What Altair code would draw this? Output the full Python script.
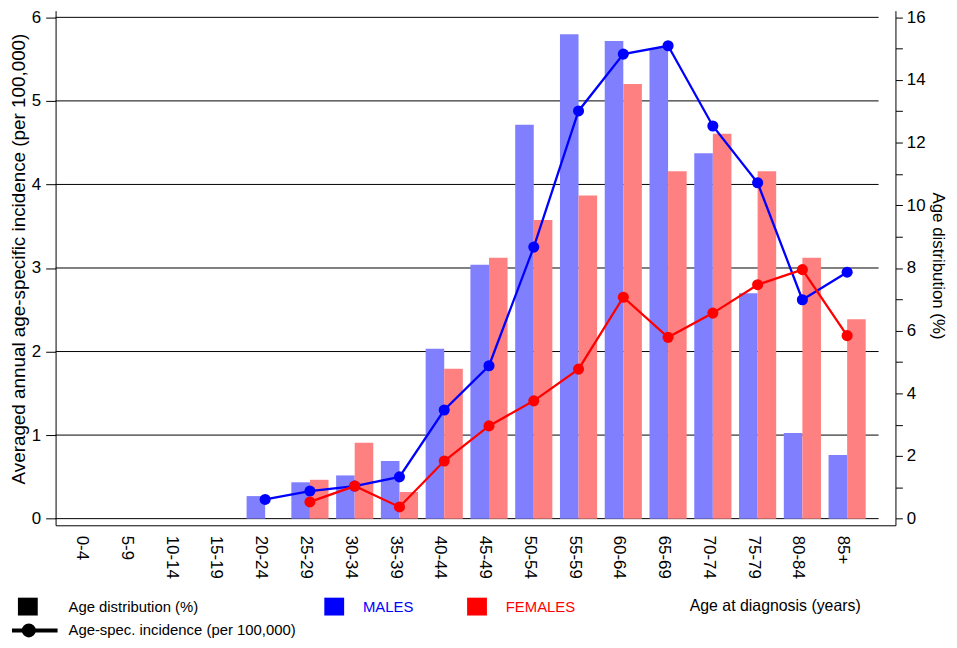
import altair as alt
import pandas as pd

FONT = "Liberation Sans"

ages = ["0-4", "5-9", "10-14", "15-19", "20-24", "25-29", "30-34", "35-39",
        "40-44", "45-49", "50-54", "55-59", "60-64", "65-69", "70-74",
        "75-79", "80-84", "85+"]
male_ages = ages[4:]
female_ages = ages[5:]

# Age distribution (%) - bars (right axis)
male_pct = [0.72, 1.16, 1.38, 1.84, 5.42, 8.10, 12.57, 15.46, 15.24, 15.02,
            11.66, 7.19, 2.73, 2.03]
female_pct = [1.24, 2.42, 0.85, 4.78, 8.33, 9.53, 10.31, 13.87, 11.09, 12.28,
              11.09, 8.33, 6.36]

# Age-specific incidence (per 100,000) - lines (left axis)
male_inc = [0.23, 0.33, 0.39, 0.50, 1.30, 1.83, 3.25, 4.88, 5.56, 5.66,
            4.70, 4.02, 2.62, 2.95]
female_inc = [0.20, 0.39, 0.14, 0.69, 1.11, 1.41, 1.79, 2.65, 2.17, 2.46,
              2.80, 2.98, 2.19]

sexes = ["MALES", "FEMALES"]
bar_colors = ["#8080FF", "#FF8080"]
line_colors = ["#0000FF", "#FF0000"]
left_ticks = [0, 1, 2, 3, 4, 5, 6]
right_ticks = list(range(17))

bars_df = pd.DataFrame({
    "age": male_ages + female_ages,
    "sex": ["MALES"] * len(male_ages) + ["FEMALES"] * len(female_ages),
    "pct": male_pct + female_pct,
})
inc_df = pd.DataFrame({
    "age": male_ages + female_ages,
    "sex": ["MALES"] * len(male_ages) + ["FEMALES"] * len(female_ages),
    "inc": male_inc + female_inc,
})
grid_df = pd.DataFrame({"v": left_ticks})

left_domain = [-0.0796, 6.08]
right_domain = [-0.212, 16.212]

x_scale = alt.Scale(domain=ages, paddingInner=0.17, paddingOuter=0.465, align=0.286)
x_axis = alt.Axis(
    title="Age at diagnosis (years)", labelAngle=90, labelFontSize=17,
    labelPadding=10, labelOffset=-4, ticks=False, domainColor="black",
    domainWidth=1, grid=False, titleX=639, titleY=81, titleAlign="left",
    titleBaseline="middle", titleFontSize=16, titleFontWeight="normal",
)
x_enc = alt.X("age:N", scale=x_scale, axis=x_axis, sort=ages)

grid = alt.Chart(grid_df).mark_rule(color="black", strokeWidth=1).encode(
    y=alt.Y("v:Q", scale=alt.Scale(domain=left_domain, nice=False, zero=False), axis=None),
    x=alt.value(0),
    x2=alt.value(830),
)

bars = alt.Chart(bars_df).mark_bar().encode(
    x=x_enc,
    xOffset=alt.XOffset("sex:N", scale=alt.Scale(domain=sexes, paddingInner=0, paddingOuter=0)),
    y=alt.Y("pct:Q", scale=alt.Scale(domain=right_domain, nice=False, zero=False),
            axis=alt.Axis(
                orient="right", values=right_ticks,
                labelExpr="datum.value % 2 === 0 ? datum.label : ''",
                tickSize=7, labelPadding=4, labelFontSize=17, tickColor="black",
                domainColor="black", grid=False,
                title="Age distribution (%)", titleAngle=90, titleX=42,
                titleY=257, titleBaseline="middle", titleAlign="center",
                titleFontSize=17, titleFontWeight="normal")),
    y2=alt.datum(0),
    color=alt.Color("sex:N", scale=alt.Scale(domain=sexes, range=bar_colors), legend=None),
)

lines = alt.Chart(inc_df).mark_line(
    strokeWidth=2.3, point=alt.OverlayMarkDef(filled=True, size=125, opacity=1)
).encode(
    x=x_enc,
    y=alt.Y("inc:Q", scale=alt.Scale(domain=left_domain, nice=False, zero=False),
            axis=alt.Axis(
                orient="left", values=left_ticks, format="d",
                tickSize=10, labelPadding=5, labelFontSize=17,
                tickColor="black", domainColor="black", grid=False,
                title="Averaged annual age-specific incidence (per 100,000)",
                titleAngle=-90, titleX=-37, titleY=250, titleBaseline="middle",
                titleAlign="center", titleFontSize=19, titleFontWeight="normal")),
    color=alt.Color("sex:N", scale=alt.Scale(domain=sexes, range=line_colors), legend=None),
    order=alt.Order("sex_order:Q"),
).transform_calculate(sex_order="datum.sex === 'MALES' ? 0 : 1")

one = alt.Data(values=[{"k": 0}])

legend_text = ["Age distribution (%)", "Age-spec. incidence (per 100,000)", "MALES", "FEMALES"]

def box(x1, x2, color):
    return alt.Chart(one).mark_rect(color=color).encode(
        x=alt.value(x1), x2=alt.value(x2), y=alt.value(592), y2=alt.value(610))

def label(txt, x, y, color):
    return alt.Chart(one).mark_text(
        text=txt, align="left", baseline="middle", fontSize=15, color=color, font=FONT
    ).encode(x=alt.value(x), y=alt.value(y))

leg_line = alt.Chart(one).mark_rule(color="black", strokeWidth=4).encode(
    x=alt.value(-44), x2=alt.value(2), y=alt.value(625))
leg_dot = alt.Chart(one).mark_point(filled=True, color="black", size=200, opacity=1, shape="circle").encode(
    x=alt.value(-27), y=alt.value(625))

legend_layers = [
    box(-38, -18, "black"),
    label(legend_text[0], 13, 601, "black"),
    box(271, 291, "#0000FF"),
    label(legend_text[2], 310, 601, "#0000FF"),
    box(415, 435, "#FF0000"),
    label(legend_text[3], 454, 601, "#FF0000"),
    leg_line, leg_dot,
    label(legend_text[1], 13, 625, "black"),
]

chart = alt.layer(grid, bars, lines, *legend_layers).resolve_scale(
    y="independent", color="independent"
).properties(
    width=847, height=519,
    padding={"left": 48, "top": 0, "right": 54, "bottom": 113},
    autosize=alt.AutoSizeParams(type="none"),
).configure(font=FONT).configure_view(strokeWidth=0).configure_axis(
    labelFont=FONT, titleFont=FONT, labelColor="black", titleColor="black"
)

chart.save("out.html", embed_options={"renderer": "svg", "actions": False})
